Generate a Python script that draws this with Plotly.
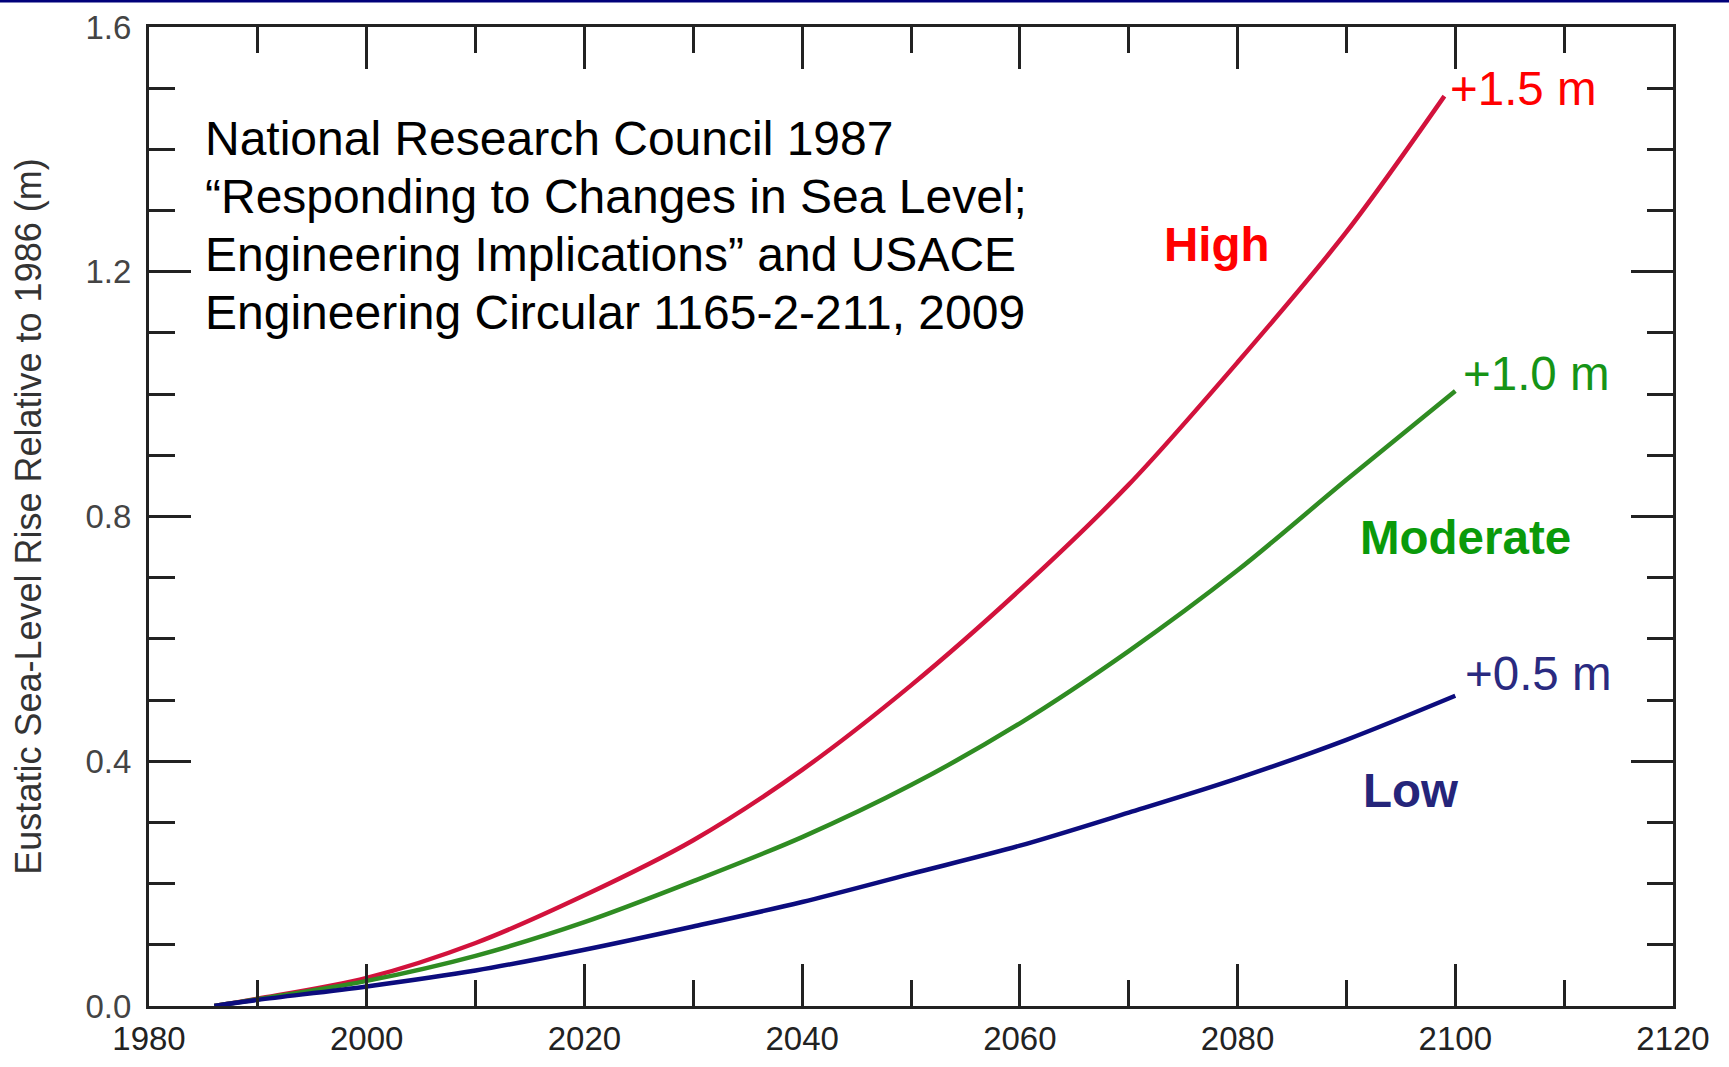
import plotly.graph_objects as go

# ---- data ----
years_high = [1986, 1990, 2000, 2010, 2020, 2030, 2040, 2050, 2060, 2070, 2080, 2090, 2099]
high = [0.0, 0.012, 0.046, 0.103, 0.181, 0.271, 0.386, 0.524, 0.680, 0.852, 1.052, 1.265, 1.487]

years_mod = [1986, 1990, 2000, 2010, 2020, 2030, 2040, 2050, 2060, 2070, 2080, 2090, 2100]
moderate = [0.0, 0.011, 0.041, 0.082, 0.137, 0.204, 0.276, 0.361, 0.462, 0.580, 0.712, 0.860, 1.005]

years_low = [1986, 1990, 2000, 2010, 2020, 2030, 2040, 2050, 2060, 2070, 2080, 2090, 2100]
low = [0.0, 0.010, 0.032, 0.058, 0.092, 0.130, 0.170, 0.216, 0.262, 0.316, 0.372, 0.435, 0.507]

x_range = [1980, 2120]
y_range = [0, 1.6]

scenario_names = ["High", "Moderate", "Low"]
end_labels = ["+1.5 m", "+1.0 m", "+0.5 m"]
y_title = "Eustatic Sea-Level Rise Relative to 1986 (m)"
source_lines = ["National Research Council 1987",
                "\u201cResponding to Changes in Sea Level;",
                "Engineering Implications\u201d and USACE",
                "Engineering Circular 1165-2-211, 2009"]

FONT = "Liberation Sans, Arial, sans-serif"
line_col = {"High": "#d2123c", "Moderate": "#2f8c22", "Low": "#0c0c7e"}
label_col = {"High": "#ff0000", "Moderate": "#0a9a0a", "Low": "#25257a"}
end_col = {"High": "#ff0000", "Moderate": "#169416", "Low": "#2a2a80"}

fig = go.Figure()
for name, xs, ys in [("High", years_high, high), ("Moderate", years_mod, moderate), ("Low", years_low, low)]:
    fig.add_trace(go.Scatter(x=xs, y=ys, mode="lines", name=name,
                             line=dict(color=line_col[name], width=4.5, shape="spline", smoothing=0.9),
                             showlegend=False))

# scenario labels (data coordinates)
label_pos = {"High": (2073.1, 1.245), "Moderate": (2091.1, 0.765), "Low": (2091.3, 0.353)}
end_pos = {"High": (2099.3, 1.50), "Moderate": (2100.5, 1.034), "Low": (2100.7, 0.544)}
for name, lab in zip(scenario_names, end_labels):
    x, y = label_pos[name]
    fig.add_annotation(x=x, y=y, xref="x", yref="y", text="<b>%s</b>" % name, showarrow=False,
                       xanchor="left", yanchor="middle",
                       font=dict(family=FONT, size=47.5, color=label_col[name]))
    x, y = end_pos[name]
    fig.add_annotation(x=x, y=y, xref="x", yref="y", text=lab, showarrow=False,
                       xanchor="left", yanchor="middle",
                       font=dict(family=FONT, size=47.5, color=end_col[name]))

# source text, one annotation per line
source_y = [1.418, 1.323, 1.229, 1.134]
for txt, yy in zip(source_lines, source_y):
    fig.add_annotation(x=1985.0, y=yy, xref="x", yref="y", text=txt, showarrow=False,
                       xanchor="left", yanchor="middle", align="left",
                       font=dict(family=FONT, size=48, color="#000000"))

# navy rule at the very top of the page
fig.add_shape(type="rect", xref="paper", yref="paper", x0=-0.12, x1=1.06,
              y0=1 + 24.5 / 979, y1=1 + 27.5 / 979, line=dict(width=0), fillcolor="#00007a")

axis_common = dict(showline=True, linewidth=3, linecolor="#222222", mirror="allticks",
                   ticks="inside", ticklen=42, tickwidth=3, tickcolor="#222222",
                   showgrid=False, zeroline=False)

fig.update_xaxes(range=x_range, tickmode="linear", tick0=1980, dtick=20,
                 minor=dict(dtick=10, ticks="inside", ticklen=26, tickwidth=3, tickcolor="#222222"),
                 tickfont=dict(family=FONT, size=33, color="#222222"),
                 ticklabelstandoff=1, **axis_common)
fig.update_yaxes(range=y_range, tickmode="linear", tick0=0, dtick=0.4, tickformat=".1f",
                 minor=dict(dtick=0.1, ticks="inside", ticklen=26, tickwidth=3, tickcolor="#222222"),
                 tickfont=dict(family=FONT, size=33, color="#444444"),
                 ticklabelstandoff=8,
                 title=dict(text=y_title, font=dict(family=FONT, size=36, color="#333333"), standoff=33),
                 **axis_common)

fig.update_layout(width=1729, height=1067, autosize=False,
                  margin=dict(l=149, r=56, t=27, b=61, autoexpand=False),
                  paper_bgcolor="white", plot_bgcolor="white")

fig.write_html("out.html", config={"displayModeBar": False},
               post_script="document.body.style.margin='0';document.body.style.overflow='hidden';")
